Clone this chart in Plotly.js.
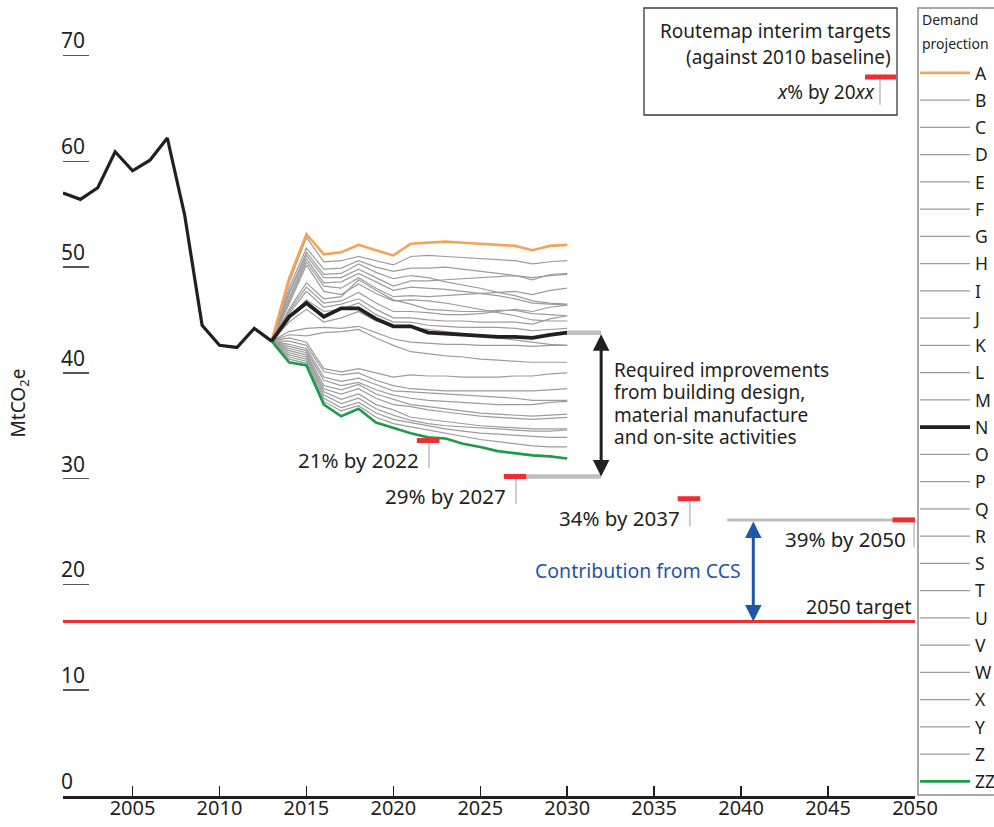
<!DOCTYPE html>
<html><head><meta charset="utf-8">
<script src="https://cdn.plot.ly/plotly-3.0.1.min.js"></script>
<style>html,body{margin:0;padding:0;background:#fff}#chart{width:994px;height:827px}</style>
</head><body><div id="chart"></div>
<script>
// ---------- DATA ----------
const histYears = [2001,2002,2003,2004,2005,2006,2007,2008,2009,2010,2011,2012,2013];
const histValues = [57.0,56.4,57.5,60.9,59.1,60.1,62.2,54.9,44.5,42.6,42.4,44.2,43.0];

const projYears = [2013,2014,2015,2016,2017,2018,2019,2020,2021,2022,2023,2024,2025,2026,2027,2028,2029,2030];
const seriesNames = ['A','B','C','D','E','F','G','H','I','J','K','L','M','N','O','P','Q','R','S','T','U','V','W','X','Y','Z','ZZ'];

const projA = [43.0,48.9,53.1,51.2,51.4,52.1,51.6,51.1,52.2,52.3,52.4,52.3,52.2,52.1,52.0,51.6,52.0,52.1];
const projB = [43.0,48.5,52.8,50.5,50.6,51.0,50.6,50.2,51.0,51.1,51.0,50.9,50.8,50.7,50.6,50.3,50.5,50.6];
const projC = [43.0,48.0,51.8,49.8,49.9,50.6,50.0,49.6,49.9,49.9,50.0,49.8,49.6,49.4,49.2,48.8,49.3,49.4];
const projD = [43.0,47.6,51.4,49.3,49.4,50.3,49.5,48.9,49.2,49.0,48.6,48.3,48.0,47.6,47.3,46.8,46.6,46.5];
const projE = [43.0,47.4,51.1,49.0,49.0,49.8,49.0,48.2,48.7,48.7,48.8,48.9,49.0,49.1,49.2,49.0,49.2,49.3];
const projF = [43.0,47.0,50.8,48.5,48.6,49.4,48.6,47.8,48.1,48.0,47.9,47.7,47.5,47.3,47.0,46.6,46.5,46.4];
const projG = [43.0,46.8,50.5,48.2,48.0,49.0,48.0,47.2,47.3,47.2,47.3,47.4,47.5,47.6,47.7,47.4,47.8,48.0];
const projH = [43.0,46.5,50.2,47.7,47.4,48.4,47.5,46.8,46.9,46.8,46.6,46.3,46.0,45.7,45.4,45.0,44.9,44.9];
const projI = [43.0,46.0,48.5,47.0,47.2,48.8,47.8,46.9,46.5,46.0,45.9,45.8,45.8,45.9,45.9,45.6,45.5,45.4];
const projJ = [43.0,45.8,48.1,46.6,46.8,47.6,46.6,45.8,45.8,45.7,45.5,45.5,45.6,45.8,46.0,45.8,46.2,46.4];
const projK = [43.0,45.6,47.7,46.2,46.5,47.0,46.0,45.2,45.2,45.0,44.9,44.9,44.8,44.8,44.8,44.6,45.1,45.4];
const projL = [43.0,45.2,46.9,45.8,46.0,46.6,45.5,44.8,44.8,44.5,44.4,44.3,44.3,44.3,44.2,44.0,44.1,44.2];
const projM = [43.0,44.8,46.0,44.8,45.2,45.8,44.9,44.4,44.3,44.1,43.9,43.7,43.5,43.3,43.1,42.9,42.7,42.6];
const projN = [43.0,45.3,46.6,45.3,46.1,46.1,45.1,44.4,44.4,43.8,43.7,43.6,43.5,43.4,43.4,43.3,43.6,43.8];
const projO = [43.0,43.9,44.2,44.3,44.2,44.4,43.8,43.2,42.9,42.8,42.7,42.7,42.6,42.6,42.6,42.5,42.6,42.6];
const projP = [43.0,43.6,43.5,43.8,43.9,44.1,43.3,42.6,42.0,41.8,41.6,41.5,41.3,41.2,41.1,41.0,41.0,41.0];
const projQ = [43.0,43.3,42.9,40.4,40.1,40.4,40.0,39.6,39.8,39.7,39.7,39.6,39.6,39.6,39.7,39.7,39.9,40.0];
const projR = [43.0,43.0,42.6,40.1,39.8,40.0,39.3,38.8,38.5,38.4,38.3,38.3,38.3,38.3,38.3,38.3,38.4,38.5];
const projS = [43.0,42.7,42.3,39.6,39.2,39.5,38.9,38.3,38.2,38.1,38.0,37.9,37.8,37.7,37.6,37.4,37.4,37.4];
const projT = [43.0,42.5,42.1,39.3,38.8,39.1,38.4,37.9,37.6,37.4,37.3,37.2,37.1,37.0,37.0,37.0,37.2,37.3];
const projU = [43.0,42.3,41.9,38.8,38.4,38.9,38.0,37.5,37.0,36.8,36.6,36.4,36.2,36.1,36.0,35.9,36.0,36.1];
const projV = [43.0,42.1,41.7,38.5,38.0,38.5,37.6,37.0,36.8,36.5,36.3,36.1,35.9,35.8,35.7,35.6,35.7,35.8];
const projW = [43.0,41.9,41.5,38.2,37.5,38.0,37.0,36.5,35.8,35.6,35.4,35.2,35.0,34.9,34.8,34.7,34.7,34.7];
const projX = [43.0,41.7,41.3,37.9,37.1,37.6,36.6,36.0,35.5,35.2,35.0,34.9,34.8,34.7,34.6,34.5,34.5,34.6];
const projY = [43.0,41.5,41.1,37.6,36.7,37.2,36.2,35.6,35.3,35.0,34.7,34.5,34.3,34.2,34.1,34.0,33.9,33.9];
const projZ = [43.0,41.3,40.9,37.3,36.4,36.9,35.8,35.2,34.9,34.6,34.3,34.0,33.7,33.5,33.3,33.1,33.0,33.0];
const projZZ = [43.0,41.0,40.7,37.0,35.9,36.6,35.3,34.8,34.3,33.9,33.8,33.3,33.0,32.6,32.4,32.2,32.1,31.9];

const targetLabels = ['21% by 2022','29% by 2027','34% by 2037','39% by 2050'];
const targetYears = [2022,2027,2037,2050];
const targetLevels = [33.6,30.2,28.1,26.1];
const target2050 = 16.5;

const xTickVals = [2005,2010,2015,2020,2025,2030,2035,2040,2045,2050];
const yTickVals = [0,10,20,30,40,50,60,70];

const improvementLines = ['Required improvements','from building design,','material manufacture','and on-site activities'];

// ---------- BUILD ----------
const projections = [projA,projB,projC,projD,projE,projF,projG,projH,projI,projJ,projK,projL,projM,projN,
  projO,projP,projQ,projR,projS,projT,projU,projV,projW,projX,projY,projZ,projZZ];

const INK = '#231f20';
const GREY = '#9c9c9c';
const FONT = 'Noto Sans, Open Sans, sans-serif';

const L = 63, T = 10, W = 852, H = 786;
const px2x = px => (px - L) / W;
const py2y = py => (T + H - py) / H;

function styleFor(name){
  if (name === 'A') return {color:'#f6a25b', width:2.6, order:1};
  if (name === 'ZZ') return {color:'#1e9b48', width:2.6, order:2};
  if (name === 'N') return {color:INK, width:3.8, order:3};
  return {color:GREY, width:1.2, order:0};
}

const projTraces = seriesNames.map((n, i) => {
  const s = styleFor(n);
  return {x: projYears, y: projections[i], type:'scatter', mode:'lines', name:n,
    line:{color:s.color, width:s.width}, legendgroup:'g'+i, legendrank:i+1,
    _order:s.order, hoverinfo:'skip'};
});
projTraces.sort((a,b)=>a._order-b._order);
projTraces.forEach(t=>delete t._order);

const histTrace = {x: histYears, y: histValues, type:'scatter', mode:'lines', showlegend:false,
  line:{color:INK, width:3.2}, hoverinfo:'skip'};

const data = [...projTraces, histTrace];

const NLast = projN[projN.length-1];
const arrowX = 2031.95;
const ccsX = 2040.7;

const shapes = [];
const annotations = [];
const RED = '#ee2e31', LGREY = '#bcbec0', BLUE = '#1f57a8';

// 2050 target line
shapes.push({type:'line', xref:'x', yref:'y', x0:2001, x1:2050, y0:target2050, y1:target2050, line:{color:RED, width:3}});
// connector lines
shapes.push({type:'line', xref:'x', yref:'y', x0:2030, x1:arrowX, y0:NLast, y1:NLast, line:{color:LGREY, width:4.5}});
shapes.push({type:'line', xref:'x', yref:'y', x0:targetYears[1]+0.65, x1:arrowX, y0:targetLevels[1], y1:targetLevels[1], line:{color:LGREY, width:4.5}});
shapes.push({type:'line', xref:'x', yref:'y', x0:2039.2, x1:2048.7, y0:targetLevels[3], y1:targetLevels[3], line:{color:LGREY, width:3}});

targetYears.forEach((yr, i) => {
  const lvl = targetLevels[i];
  const xe = Math.min(yr + 0.65, 2050);
  const xs = xe - 1.3;
  const xt = Math.min(yr + 0.05, 2049.95);
  shapes.push({type:'line', xref:'x', yref:'y', x0:xt, x1:xt, y0:lvl, y1:lvl-2.6, line:{color:LGREY, width:1.5}});
  shapes.push({type:'line', xref:'x', yref:'y', x0:xs, x1:xe, y0:lvl, y1:lvl, line:{color:RED, width:5}});
  annotations.push({xref:'x', yref:'y', x:yr-0.4, y:lvl-1.8, xanchor:'right', yanchor:'middle',
    text:targetLabels[i], showarrow:false, font:{size:20.5, color:INK, family:FONT}});
});

// arrows
annotations.push({xref:'x', yref:'y', axref:'x', ayref:'y', x:arrowX, y:targetLevels[1], ax:arrowX, ay:NLast,
  text:'', showarrow:true, arrowhead:2, startarrowhead:2, arrowside:'end+start', arrowwidth:3, arrowsize:1.1,
  startarrowsize:1.1, arrowcolor:INK, standoff:0, startstandoff:0});
annotations.push({xref:'x', yref:'y', axref:'x', ayref:'y', x:ccsX, y:target2050, ax:ccsX, ay:targetLevels[3],
  text:'', showarrow:true, arrowhead:2, startarrowhead:2, arrowside:'end+start', arrowwidth:3, arrowsize:1.1,
  startarrowsize:1.1, arrowcolor:BLUE, standoff:0, startstandoff:0});

improvementLines.forEach((t, i) => {
  annotations.push({xref:'paper', yref:'paper', x:px2x(612), y:py2y(370 + i*22.4), xanchor:'left', yanchor:'middle',
    text:t, showarrow:false, font:{size:19, color:INK, family:FONT}});
});
annotations.push({xref:'paper', yref:'paper', x:px2x(743), y:py2y(570), xanchor:'right', yanchor:'middle',
  text:'Contribution from CCS', showarrow:false, font:{size:19.5, color:BLUE, family:FONT}});
annotations.push({xref:'paper', yref:'paper', x:px2x(914), y:py2y(606), xanchor:'right', yanchor:'middle',
  text:'2050 target', showarrow:false, font:{size:19.5, color:INK, family:FONT}});

// Key box for targets
shapes.push({type:'rect', xref:'paper', yref:'paper', x0:px2x(644), x1:px2x(897), y0:py2y(8), y1:py2y(115),
  line:{color:'#3a3a3a', width:1.3}, fillcolor:'rgba(0,0,0,0)'});
shapes.push({type:'line', xref:'paper', yref:'paper', x0:px2x(880), x1:px2x(880), y0:py2y(78), y1:py2y(105), line:{color:LGREY, width:1.5}});
shapes.push({type:'line', xref:'paper', yref:'paper', x0:px2x(865), x1:px2x(896), y0:py2y(77), y1:py2y(77), line:{color:RED, width:5}});
annotations.push({xref:'paper', yref:'paper', x:px2x(893), y:py2y(31), xanchor:'right', yanchor:'middle',
  text:'Routemap interim targets', showarrow:false, font:{size:19, color:INK, family:FONT}});
annotations.push({xref:'paper', yref:'paper', x:px2x(893), y:py2y(57), xanchor:'right', yanchor:'middle',
  text:'(against 2010 baseline)', showarrow:false, font:{size:19, color:INK, family:FONT}});
annotations.push({xref:'paper', yref:'paper', x:px2x(877), y:py2y(92), xanchor:'right', yanchor:'middle',
  text:'<i>x</i>% by 20<i>xx</i>', showarrow:false, font:{size:19, color:INK, family:FONT}});

// Legend frame and title
shapes.push({type:'rect', xref:'paper', yref:'paper', x0:px2x(918), x1:px2x(1002), y0:py2y(8), y1:py2y(795),
  line:{color:'#8c8c8c', width:1.5}, fillcolor:'rgba(0,0,0,0)'});
annotations.push({xref:'paper', yref:'paper', x:px2x(920), y:py2y(20), xanchor:'left', yanchor:'middle',
  text:'Demand', showarrow:false, font:{size:14, color:INK, family:FONT}});
annotations.push({xref:'paper', yref:'paper', x:px2x(920), y:py2y(43), xanchor:'left', yanchor:'middle',
  text:'projection', showarrow:false, font:{size:14, color:INK, family:FONT}});

const layout = {
  width:994, height:827,
  margin:{l:L, r:994-L-W, t:T, b:827-T-H, autoexpand:false},
  paper_bgcolor:'#fff', plot_bgcolor:'#fff',
  font:{family:FONT, color:INK},
  showlegend:true,
  legend:{x:px2x(915), xanchor:'left', y:py2y(55), yanchor:'top', bgcolor:'rgba(0,0,0,0)',
    borderwidth:0, font:{size:17.5, color:INK, family:FONT}, maxheight:1000,
    itemwidth:50, tracegroupgap:1.5, traceorder:'grouped', itemclick:false, itemdoubleclick:false},
  xaxis:{range:[2001,2050], tickvals:xTickVals, ticktext:xTickVals.map(String), ticks:'inside', ticklen:10,
    tickwidth:1.5, tickcolor:INK, showline:true, linewidth:2.5, linecolor:INK, showgrid:false, zeroline:false,
    tickfont:{size:20, color:INK, family:FONT}, ticklabelstandoff:-8, fixedrange:true},
  yaxis:{range:[0,74.3], tickvals:yTickVals, ticktext:yTickVals.map(String), ticks:'inside', ticklen:26,
    tickwidth:1.5, tickcolor:'#555', ticklabelposition:'inside top', ticklabelstandoff:-5, ticklabelshift:1,
    showline:false, showgrid:false, zeroline:false,
    tickfont:{size:21, color:INK, family:FONT}, fixedrange:true,
    title:{text:'MtCO<sub>2</sub>e', font:{size:19, color:INK, family:FONT}, standoff:30}},
  shapes:shapes, annotations:annotations
};

Plotly.newPlot('chart', data, layout, {displayModeBar:false, staticPlot:true});
</script></body></html>
